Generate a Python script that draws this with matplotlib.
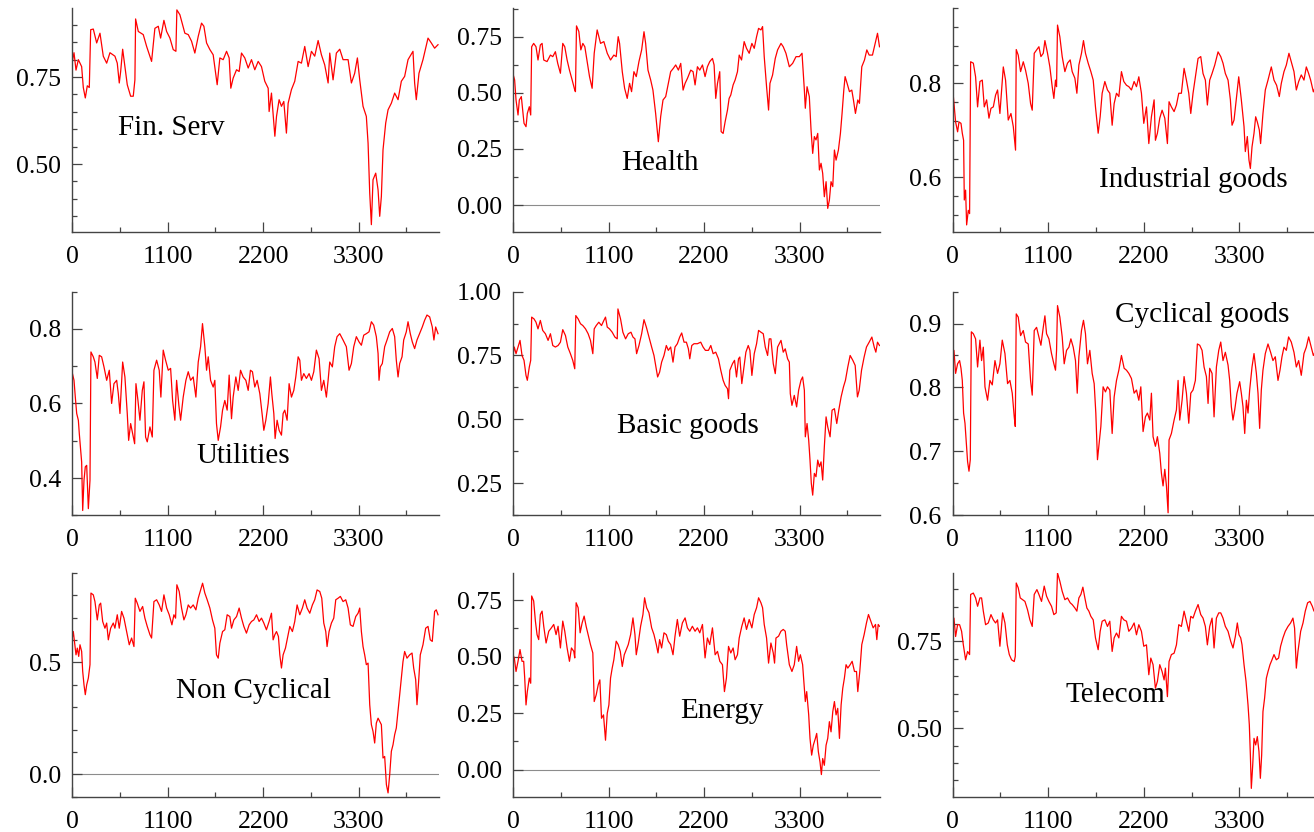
import matplotlib
matplotlib.use("Agg")
import matplotlib.pyplot as plt
from matplotlib.ticker import MultipleLocator, FormatStrFormatter

plt.rcParams['font.family'] = ['Liberation Serif', 'DejaVu Serif']

# (time index, value) pairs
fin_serv = [(0, 0.79), (23, 0.82), (46, 0.77), (73, 0.80), (111, 0.78), (130, 0.72), (153, 0.69), (176, 0.725),
            (199, 0.72), (215, 0.886), (245, 0.888), (284, 0.848), (322, 0.876), (360, 0.81), (399, 0.79),
            (437, 0.82), (494, 0.81), (521, 0.79), (544, 0.733), (560, 0.766), (583, 0.83), (609, 0.78),
            (636, 0.728), (675, 0.695), (705, 0.695), (724, 0.742), (732, 0.917), (763, 0.881), (820, 0.872),
            (859, 0.838), (916, 0.795), (954, 0.89), (993, 0.896), (1020, 0.862), (1058, 0.913), (1089, 0.881),
            (1127, 0.862), (1165, 0.829), (1196, 0.824), (1207, 0.943), (1242, 0.929), (1299, 0.876),
            (1338, 0.872), (1376, 0.853), (1414, 0.819), (1453, 0.867), (1491, 0.905), (1518, 0.896),
            (1549, 0.848), (1587, 0.829), (1625, 0.814), (1671, 0.728), (1702, 0.805), (1740, 0.80),
            (1779, 0.824), (1809, 0.805), (1828, 0.718), (1855, 0.747), (1894, 0.771), (1924, 0.766),
            (1951, 0.819), (1989, 0.805), (2028, 0.776), (2066, 0.80), (2104, 0.771), (2143, 0.795),
            (2181, 0.78), (2219, 0.738), (2258, 0.718), (2269, 0.651), (2296, 0.704), (2335, 0.58),
            (2354, 0.637), (2384, 0.685), (2411, 0.666), (2438, 0.68), (2468, 0.589), (2488, 0.675),
            (2526, 0.714), (2564, 0.738), (2603, 0.795), (2641, 0.79), (2679, 0.838), (2718, 0.78),
            (2756, 0.824), (2794, 0.81), (2833, 0.855), (2871, 0.814), (2909, 0.785), (2948, 0.733),
            (2967, 0.819), (3005, 0.742), (3043, 0.819), (3082, 0.83), (3120, 0.80), (3178, 0.80),
            (3216, 0.733), (3254, 0.761), (3285, 0.805), (3312, 0.742), (3350, 0.666), (3388, 0.637),
            (3408, 0.56), (3427, 0.417), (3446, 0.326), (3465, 0.455), (3496, 0.474), (3523, 0.426),
            (3542, 0.35), (3561, 0.407), (3580, 0.541), (3611, 0.618), (3638, 0.656), (3676, 0.675),
            (3714, 0.704), (3753, 0.685), (3791, 0.738), (3829, 0.752), (3868, 0.80), (3925, 0.824),
            (3944, 0.733), (3963, 0.685), (3994, 0.761), (4040, 0.80), (4098, 0.862), (4136, 0.848),
            (4174, 0.833), (4213, 0.843)]

health = [(0, 0.584), (19, 0.557), (35, 0.468), (58, 0.401), (73, 0.468), (96, 0.483), (112, 0.423), (127, 0.364),
          (150, 0.349), (165, 0.408), (188, 0.438), (204, 0.401), (215, 0.705), (238, 0.72), (265, 0.705),
          (288, 0.646), (315, 0.713), (335, 0.72), (354, 0.646), (392, 0.639), (431, 0.668), (458, 0.661),
          (488, 0.683), (515, 0.631), (546, 0.587), (573, 0.72), (596, 0.705), (623, 0.646), (650, 0.601),
          (681, 0.557), (711, 0.512), (719, 0.505), (731, 0.798), (758, 0.773), (781, 0.691), (804, 0.72),
          (827, 0.705), (854, 0.639), (881, 0.572), (911, 0.52), (935, 0.676), (969, 0.78), (1008, 0.72),
          (1046, 0.728), (1085, 0.676), (1123, 0.646), (1161, 0.668), (1188, 0.661), (1211, 0.75),
          (1227, 0.72), (1258, 0.594), (1285, 0.52), (1315, 0.475), (1342, 0.542), (1365, 0.505),
          (1392, 0.594), (1419, 0.572), (1450, 0.639), (1481, 0.691), (1508, 0.772), (1527, 0.72),
          (1554, 0.601), (1585, 0.557), (1611, 0.512), (1642, 0.408), (1673, 0.282), (1700, 0.394),
          (1727, 0.468), (1758, 0.483), (1788, 0.542), (1815, 0.594), (1846, 0.609), (1873, 0.624),
          (1904, 0.601), (1931, 0.631), (1958, 0.512), (1981, 0.542), (2008, 0.564), (2046, 0.601),
          (2073, 0.594), (2096, 0.535), (2123, 0.616), (2150, 0.601), (2181, 0.624), (2211, 0.572),
          (2238, 0.616), (2265, 0.639), (2296, 0.653), (2315, 0.624), (2334, 0.475), (2354, 0.542),
          (2380, 0.594), (2396, 0.327), (2419, 0.319), (2442, 0.371), (2469, 0.423), (2488, 0.475),
          (2507, 0.49), (2534, 0.535), (2557, 0.557), (2584, 0.594), (2604, 0.668), (2631, 0.646),
          (2661, 0.728), (2688, 0.698), (2719, 0.676), (2750, 0.72), (2777, 0.698), (2804, 0.75),
          (2827, 0.787), (2854, 0.78), (2873, 0.795), (2892, 0.661), (2919, 0.527), (2942, 0.423),
          (2958, 0.542), (2988, 0.579), (3019, 0.653), (3046, 0.691), (3085, 0.72), (3111, 0.705),
          (3142, 0.676), (3181, 0.616), (3219, 0.631), (3258, 0.661), (3296, 0.661), (3327, 0.676),
          (3354, 0.512), (3365, 0.431), (3385, 0.527), (3411, 0.483), (3431, 0.334), (3450, 0.23),
          (3469, 0.305), (3488, 0.29), (3508, 0.319), (3527, 0.156), (3546, 0.186), (3565, 0.141),
          (3584, 0.037), (3604, 0.104), (3623, -0.015), (3642, 0.022), (3661, 0.104), (3681, 0.082),
          (3700, 0.245), (3719, 0.2), (3746, 0.245), (3769, 0.319), (3788, 0.408), (3808, 0.512),
          (3823, 0.572), (3846, 0.542), (3873, 0.505), (3900, 0.512), (3919, 0.468), (3942, 0.408),
          (3969, 0.468), (3988, 0.453), (4015, 0.616), (4046, 0.646), (4073, 0.691), (4100, 0.668),
          (4138, 0.668), (4169, 0.72), (4196, 0.765), (4219, 0.705)]

industrial = [(0, 0.789), (15, 0.757), (34, 0.718), (57, 0.697), (73, 0.718), (96, 0.715), (111, 0.694),
              (126, 0.679), (134, 0.552), (149, 0.573), (161, 0.499), (180, 0.53), (195, 0.523), (207, 0.846),
              (238, 0.843), (264, 0.814), (287, 0.75), (314, 0.804), (341, 0.807), (364, 0.75), (391, 0.765),
              (418, 0.726), (441, 0.747), (468, 0.75), (494, 0.775), (517, 0.786), (544, 0.736), (583, 0.835),
              (609, 0.807), (640, 0.722), (671, 0.736), (698, 0.708), (724, 0.658), (732, 0.872), (755, 0.86),
              (782, 0.825), (813, 0.846), (839, 0.828), (870, 0.80), (897, 0.757), (916, 0.743), (939, 0.864),
              (966, 0.871), (993, 0.878), (1016, 0.857), (1043, 0.864), (1062, 0.891), (1092, 0.864),
              (1119, 0.835), (1146, 0.793), (1165, 0.768), (1184, 0.807), (1196, 0.793), (1207, 0.924),
              (1234, 0.899), (1261, 0.857), (1292, 0.825), (1322, 0.843), (1353, 0.85), (1376, 0.825),
              (1407, 0.811), (1430, 0.779), (1453, 0.839), (1483, 0.864), (1506, 0.891), (1529, 0.864),
              (1560, 0.843), (1591, 0.825), (1618, 0.807), (1644, 0.75), (1675, 0.694), (1698, 0.729),
              (1721, 0.779), (1752, 0.804), (1782, 0.786), (1809, 0.779), (1836, 0.711), (1859, 0.757),
              (1886, 0.779), (1913, 0.772), (1943, 0.825), (1970, 0.804), (2001, 0.796), (2028, 0.793),
              (2058, 0.786), (2089, 0.804), (2116, 0.793), (2143, 0.814), (2173, 0.779), (2200, 0.715),
              (2231, 0.75), (2258, 0.672), (2288, 0.729), (2319, 0.765), (2334, 0.679), (2357, 0.694),
              (2384, 0.726), (2411, 0.743), (2442, 0.726), (2472, 0.672), (2491, 0.761), (2518, 0.75),
              (2549, 0.74), (2576, 0.754), (2603, 0.779), (2633, 0.779), (2664, 0.832), (2691, 0.807),
              (2718, 0.779), (2741, 0.736), (2767, 0.779), (2794, 0.814), (2825, 0.853), (2856, 0.857),
              (2882, 0.821), (2909, 0.807), (2932, 0.754), (2959, 0.807), (2986, 0.821), (3017, 0.839),
              (3055, 0.867), (3086, 0.857), (3112, 0.843), (3139, 0.821), (3170, 0.807), (3197, 0.765),
              (3216, 0.711), (3239, 0.722), (3266, 0.768), (3293, 0.814), (3323, 0.765), (3354, 0.708),
              (3369, 0.655), (3392, 0.687), (3411, 0.637), (3427, 0.619), (3446, 0.665), (3469, 0.694),
              (3488, 0.729), (3507, 0.718), (3530, 0.701), (3545, 0.672), (3572, 0.736), (3599, 0.786),
              (3630, 0.807), (3668, 0.835), (3699, 0.807), (3729, 0.796), (3760, 0.772), (3783, 0.80),
              (3814, 0.825), (3841, 0.839), (3871, 0.864), (3898, 0.846), (3929, 0.825), (3956, 0.786),
              (3983, 0.804), (4013, 0.818), (4044, 0.807), (4071, 0.835), (4098, 0.821), (4121, 0.807),
              (4152, 0.782), (4190, 0.80), (4220, 0.79)]

utilities = [(0, 0.685), (23, 0.662), (38, 0.617), (54, 0.573), (73, 0.555), (84, 0.519), (100, 0.474),
             (111, 0.443), (123, 0.313), (138, 0.394), (153, 0.43), (169, 0.434), (188, 0.318), (207, 0.394),
             (218, 0.738), (245, 0.725), (264, 0.711), (291, 0.667), (314, 0.729), (341, 0.725), (368, 0.698),
             (399, 0.662), (429, 0.689), (456, 0.60), (483, 0.653), (514, 0.662), (533, 0.626), (552, 0.573),
             (583, 0.711), (609, 0.671), (636, 0.573), (652, 0.501), (675, 0.546), (698, 0.519), (721, 0.492),
             (736, 0.653), (759, 0.608), (782, 0.555), (809, 0.635), (828, 0.658), (847, 0.51), (866, 0.497),
             (897, 0.537), (924, 0.51), (943, 0.689), (974, 0.716), (1004, 0.689), (1023, 0.617), (1050, 0.743),
             (1077, 0.716), (1108, 0.689), (1135, 0.694), (1158, 0.608), (1184, 0.555), (1204, 0.662),
             (1230, 0.595), (1250, 0.555), (1280, 0.617), (1311, 0.662), (1338, 0.685), (1365, 0.662),
             (1395, 0.671), (1426, 0.617), (1453, 0.711), (1480, 0.752), (1502, 0.814), (1529, 0.752),
             (1549, 0.689), (1568, 0.725), (1595, 0.662), (1625, 0.644), (1644, 0.662), (1663, 0.546),
             (1683, 0.501), (1710, 0.537), (1733, 0.582), (1759, 0.608), (1786, 0.582), (1809, 0.676),
             (1836, 0.559), (1855, 0.617), (1886, 0.671), (1913, 0.635), (1940, 0.689), (1970, 0.671),
             (2001, 0.662), (2028, 0.635), (2054, 0.689), (2077, 0.685), (2104, 0.644), (2131, 0.662),
             (2162, 0.626), (2192, 0.564), (2208, 0.528), (2231, 0.555), (2258, 0.60), (2284, 0.671),
             (2300, 0.626), (2323, 0.573), (2338, 0.506), (2361, 0.555), (2384, 0.528), (2411, 0.515),
             (2430, 0.573), (2449, 0.582), (2476, 0.555), (2499, 0.653), (2526, 0.617), (2553, 0.635),
             (2576, 0.671), (2603, 0.725), (2622, 0.716), (2641, 0.662), (2668, 0.68), (2698, 0.667),
             (2729, 0.68), (2756, 0.662), (2783, 0.685), (2813, 0.743), (2844, 0.72), (2871, 0.635),
             (2898, 0.662), (2928, 0.617), (2948, 0.662), (2967, 0.711), (2997, 0.698), (3024, 0.752),
             (3051, 0.779), (3082, 0.787), (3120, 0.77), (3158, 0.752), (3189, 0.689), (3216, 0.707),
             (3243, 0.752), (3273, 0.779), (3304, 0.765), (3331, 0.756), (3358, 0.783), (3388, 0.787),
             (3419, 0.792), (3446, 0.819), (3473, 0.81), (3503, 0.779), (3523, 0.734), (3534, 0.662),
             (3549, 0.698), (3572, 0.707), (3599, 0.752), (3626, 0.77), (3657, 0.792), (3687, 0.801),
             (3714, 0.779), (3733, 0.716), (3753, 0.671), (3772, 0.707), (3799, 0.725), (3818, 0.77),
             (3848, 0.792), (3868, 0.819), (3894, 0.787), (3917, 0.765), (3944, 0.747), (3971, 0.77),
             (4001, 0.787), (4032, 0.805), (4059, 0.823), (4086, 0.837), (4117, 0.832), (4147, 0.805),
             (4166, 0.77), (4186, 0.805), (4213, 0.787)]

basic_goods = [(0, 0.75), (15, 0.783), (35, 0.757), (58, 0.783), (81, 0.809), (104, 0.75), (127, 0.731),
               (150, 0.672), (165, 0.653), (188, 0.705), (204, 0.731), (215, 0.90), (242, 0.893), (265, 0.88),
               (288, 0.854), (315, 0.887), (342, 0.848), (373, 0.835), (404, 0.809), (431, 0.835), (458, 0.789),
               (488, 0.783), (519, 0.789), (546, 0.802), (573, 0.851), (604, 0.828), (631, 0.783), (661, 0.757),
               (688, 0.731), (711, 0.698), (723, 0.906), (750, 0.893), (777, 0.874), (804, 0.867), (835, 0.854),
               (865, 0.835), (892, 0.809), (919, 0.757), (935, 0.854), (958, 0.867), (988, 0.88), (1019, 0.867),
               (1046, 0.887), (1065, 0.90), (1085, 0.861), (1111, 0.854), (1142, 0.841), (1173, 0.822),
               (1200, 0.815), (1208, 0.932), (1238, 0.893), (1265, 0.841), (1296, 0.815), (1327, 0.835),
               (1358, 0.841), (1381, 0.822), (1404, 0.815), (1423, 0.757), (1450, 0.789), (1481, 0.835),
               (1508, 0.89), (1535, 0.861), (1565, 0.822), (1596, 0.783), (1623, 0.75), (1642, 0.711),
               (1665, 0.666), (1688, 0.685), (1711, 0.724), (1738, 0.75), (1765, 0.789), (1788, 0.77),
               (1815, 0.783), (1842, 0.724), (1865, 0.783), (1892, 0.796), (1919, 0.822), (1942, 0.838),
               (1969, 0.802), (1996, 0.802), (2019, 0.776), (2035, 0.737), (2058, 0.789), (2084, 0.796),
               (2123, 0.796), (2161, 0.802), (2188, 0.783), (2215, 0.77), (2250, 0.77), (2277, 0.789),
               (2304, 0.757), (2334, 0.763), (2365, 0.737), (2392, 0.692), (2419, 0.653), (2442, 0.633),
               (2469, 0.62), (2481, 0.581), (2496, 0.692), (2527, 0.718), (2550, 0.731), (2573, 0.666),
               (2596, 0.737), (2611, 0.744), (2634, 0.64), (2661, 0.711), (2681, 0.763), (2708, 0.789),
               (2727, 0.77), (2750, 0.672), (2777, 0.757), (2804, 0.796), (2827, 0.848), (2854, 0.841),
               (2881, 0.835), (2904, 0.783), (2931, 0.75), (2950, 0.815), (2969, 0.815), (2996, 0.718),
               (3019, 0.679), (3046, 0.783), (3085, 0.809), (3111, 0.763), (3134, 0.776), (3161, 0.737),
               (3181, 0.724), (3192, 0.601), (3211, 0.555), (3238, 0.594), (3265, 0.549), (3288, 0.614),
               (3315, 0.653), (3334, 0.666), (3354, 0.614), (3365, 0.432), (3385, 0.484), (3404, 0.419),
               (3419, 0.341), (3434, 0.25), (3450, 0.204), (3469, 0.289), (3488, 0.276), (3508, 0.341),
               (3527, 0.315), (3546, 0.334), (3565, 0.263), (3584, 0.393), (3604, 0.51), (3623, 0.471),
               (3650, 0.432), (3673, 0.536), (3700, 0.542), (3727, 0.484), (3750, 0.536), (3777, 0.588),
               (3804, 0.627), (3827, 0.653), (3854, 0.705), (3881, 0.75), (3912, 0.731), (3939, 0.711),
               (3965, 0.588), (3985, 0.614), (4012, 0.692), (4042, 0.744), (4069, 0.783), (4100, 0.802),
               (4131, 0.822), (4158, 0.783), (4177, 0.763), (4196, 0.802), (4219, 0.789)]

cyclical = [(0, 0.842), (15, 0.858), (34, 0.822), (57, 0.837), (80, 0.842), (96, 0.83), (111, 0.811), (126, 0.76),
            (142, 0.744), (157, 0.713), (172, 0.684), (188, 0.669), (203, 0.687), (215, 0.887), (238, 0.884),
            (264, 0.876), (287, 0.832), (314, 0.874), (333, 0.842), (353, 0.863), (372, 0.801), (402, 0.78),
            (429, 0.811), (456, 0.804), (487, 0.842), (517, 0.822), (544, 0.837), (571, 0.874), (602, 0.853),
            (632, 0.806), (659, 0.811), (686, 0.791), (709, 0.754), (721, 0.739), (732, 0.915), (755, 0.91),
            (782, 0.881), (813, 0.889), (839, 0.871), (870, 0.868), (897, 0.811), (916, 0.788), (939, 0.889),
            (966, 0.894), (993, 0.879), (1016, 0.866), (1043, 0.894), (1062, 0.912), (1081, 0.884),
            (1108, 0.876), (1138, 0.853), (1165, 0.837), (1184, 0.827), (1196, 0.858), (1207, 0.928),
            (1234, 0.91), (1261, 0.879), (1284, 0.837), (1311, 0.858), (1338, 0.863), (1361, 0.876),
            (1388, 0.863), (1414, 0.842), (1434, 0.791), (1453, 0.848), (1483, 0.889), (1506, 0.905),
            (1529, 0.884), (1552, 0.837), (1579, 0.858), (1606, 0.822), (1629, 0.806), (1648, 0.76),
            (1667, 0.687), (1683, 0.708), (1706, 0.739), (1732, 0.801), (1759, 0.793), (1782, 0.801),
            (1809, 0.796), (1836, 0.728), (1859, 0.785), (1886, 0.811), (1913, 0.827), (1943, 0.85),
            (1974, 0.83), (2001, 0.827), (2028, 0.822), (2058, 0.814), (2089, 0.791), (2116, 0.796),
            (2143, 0.78), (2166, 0.801), (2192, 0.731), (2219, 0.754), (2242, 0.76), (2269, 0.749),
            (2288, 0.791), (2307, 0.723), (2334, 0.708), (2357, 0.723), (2384, 0.697), (2403, 0.666),
            (2422, 0.646), (2442, 0.672), (2461, 0.646), (2480, 0.604), (2491, 0.718), (2518, 0.728),
            (2549, 0.749), (2576, 0.765), (2595, 0.811), (2614, 0.749), (2641, 0.78), (2664, 0.817),
            (2691, 0.791), (2718, 0.744), (2741, 0.791), (2767, 0.796), (2794, 0.811), (2817, 0.868),
            (2844, 0.866), (2871, 0.858), (2894, 0.832), (2921, 0.817), (2940, 0.775), (2959, 0.83),
            (2986, 0.822), (3009, 0.754), (3036, 0.832), (3063, 0.858), (3086, 0.871), (3112, 0.842),
            (3139, 0.855), (3170, 0.835), (3189, 0.811), (3208, 0.77), (3227, 0.749), (3247, 0.765),
            (3273, 0.791), (3304, 0.809), (3323, 0.791), (3342, 0.77), (3362, 0.728), (3381, 0.78),
            (3400, 0.76), (3419, 0.796), (3446, 0.832), (3469, 0.853), (3496, 0.822), (3515, 0.791),
            (3534, 0.736), (3553, 0.796), (3572, 0.827), (3599, 0.853), (3630, 0.868), (3660, 0.855),
            (3687, 0.842), (3714, 0.848), (3745, 0.811), (3768, 0.827), (3791, 0.848), (3814, 0.863),
            (3841, 0.858), (3867, 0.879), (3898, 0.871), (3929, 0.855), (3956, 0.832), (3983, 0.842),
            (4013, 0.819), (4044, 0.853), (4071, 0.863), (4098, 0.879), (4128, 0.863), (4152, 0.85),
            (4190, 0.86), (4220, 0.855)]

non_cyclical = [(0, 0.601), (15, 0.638), (31, 0.586), (46, 0.534), (61, 0.564), (77, 0.527), (92, 0.579),
                (111, 0.549), (123, 0.46), (138, 0.40), (153, 0.356), (169, 0.40), (188, 0.43), (207, 0.49),
                (218, 0.81), (245, 0.802), (264, 0.772), (291, 0.69), (314, 0.757), (330, 0.765), (353, 0.683),
                (379, 0.653), (399, 0.676), (418, 0.601), (445, 0.653), (475, 0.676), (494, 0.653), (521, 0.713),
                (544, 0.653), (571, 0.728), (598, 0.698), (629, 0.638), (659, 0.579), (686, 0.609), (713, 0.571),
                (728, 0.787), (751, 0.765), (782, 0.728), (813, 0.75), (839, 0.698), (866, 0.661), (897, 0.624),
                (916, 0.609), (943, 0.772), (974, 0.78), (1004, 0.757), (1031, 0.728), (1058, 0.802),
                (1089, 0.743), (1119, 0.713), (1150, 0.668), (1173, 0.713), (1192, 0.698), (1207, 0.847),
                (1234, 0.817), (1261, 0.743), (1288, 0.69), (1311, 0.713), (1338, 0.757), (1365, 0.743),
                (1395, 0.757), (1426, 0.735), (1453, 0.787), (1480, 0.824), (1503, 0.854), (1529, 0.81),
                (1556, 0.78), (1587, 0.743), (1617, 0.69), (1644, 0.653), (1663, 0.534), (1683, 0.519),
                (1702, 0.586), (1733, 0.638), (1759, 0.646), (1786, 0.713), (1817, 0.705), (1836, 0.653),
                (1863, 0.69), (1894, 0.705), (1924, 0.743), (1951, 0.698), (1978, 0.661), (2008, 0.631),
                (2039, 0.668), (2066, 0.683), (2093, 0.69), (2124, 0.713), (2154, 0.683), (2181, 0.698),
                (2208, 0.676), (2238, 0.646), (2269, 0.683), (2296, 0.72), (2315, 0.601), (2335, 0.624),
                (2354, 0.638), (2376, 0.616), (2392, 0.534), (2411, 0.475), (2430, 0.534), (2457, 0.564),
                (2484, 0.616), (2507, 0.661), (2537, 0.638), (2564, 0.683), (2591, 0.757), (2622, 0.713),
                (2652, 0.743), (2679, 0.78), (2706, 0.743), (2737, 0.72), (2767, 0.757), (2794, 0.78),
                (2821, 0.824), (2852, 0.817), (2875, 0.787), (2898, 0.676), (2921, 0.638), (2936, 0.571),
                (2959, 0.638), (2986, 0.676), (3013, 0.698), (3036, 0.78), (3063, 0.787), (3089, 0.795),
                (3120, 0.772), (3151, 0.78), (3178, 0.743), (3204, 0.668), (3235, 0.661), (3266, 0.705),
                (3293, 0.72), (3312, 0.743), (3331, 0.638), (3350, 0.571), (3369, 0.534), (3388, 0.49),
                (3408, 0.497), (3427, 0.311), (3446, 0.222), (3465, 0.192), (3484, 0.14), (3503, 0.229),
                (3523, 0.251), (3542, 0.237), (3561, 0.222), (3580, 0.073), (3599, 0.08), (3619, -0.046),
                (3638, -0.083), (3657, -0.001), (3676, 0.103), (3695, 0.132), (3714, 0.177), (3733, 0.207),
                (3753, 0.281), (3772, 0.356), (3791, 0.43), (3810, 0.504), (3829, 0.549), (3856, 0.519),
                (3887, 0.534), (3914, 0.542), (3933, 0.475), (3956, 0.423), (3971, 0.311), (3990, 0.415),
                (4009, 0.534), (4040, 0.579), (4071, 0.653), (4098, 0.661), (4124, 0.601), (4147, 0.594),
                (4174, 0.728), (4193, 0.735), (4213, 0.713)]

energy = [(0, 0.508), (15, 0.494), (35, 0.434), (58, 0.479), (81, 0.531), (104, 0.479), (123, 0.479), (135, 0.405),
          (150, 0.286), (165, 0.345), (188, 0.405), (204, 0.382), (215, 0.768), (238, 0.746), (258, 0.657),
          (277, 0.597), (296, 0.575), (315, 0.686), (335, 0.701), (354, 0.634), (381, 0.56), (412, 0.612),
          (442, 0.627), (469, 0.642), (496, 0.597), (519, 0.634), (546, 0.538), (573, 0.657), (596, 0.612),
          (623, 0.538), (650, 0.479), (673, 0.538), (700, 0.523), (711, 0.494), (727, 0.738), (750, 0.716),
          (773, 0.605), (796, 0.649), (819, 0.679), (842, 0.634), (865, 0.597), (892, 0.553), (919, 0.516),
          (935, 0.301), (958, 0.331), (981, 0.375), (1000, 0.397), (1019, 0.227), (1042, 0.242), (1065, 0.13),
          (1085, 0.249), (1104, 0.286), (1123, 0.405), (1142, 0.449), (1161, 0.486), (1188, 0.568),
          (1211, 0.553), (1235, 0.523), (1258, 0.456), (1281, 0.508), (1304, 0.531), (1327, 0.553),
          (1354, 0.597), (1381, 0.671), (1404, 0.597), (1419, 0.508), (1442, 0.56), (1469, 0.634),
          (1496, 0.686), (1515, 0.76), (1538, 0.716), (1565, 0.694), (1596, 0.627), (1623, 0.597),
          (1650, 0.553), (1669, 0.516), (1688, 0.575), (1711, 0.538), (1738, 0.605), (1765, 0.597),
          (1788, 0.568), (1815, 0.553), (1842, 0.508), (1865, 0.59), (1892, 0.664), (1919, 0.59),
          (1950, 0.649), (1981, 0.671), (2008, 0.627), (2035, 0.612), (2065, 0.634), (2096, 0.612),
          (2123, 0.627), (2150, 0.605), (2181, 0.642), (2211, 0.494), (2238, 0.582), (2265, 0.553),
          (2296, 0.627), (2327, 0.508), (2354, 0.523), (2381, 0.479), (2411, 0.464), (2434, 0.345),
          (2457, 0.405), (2481, 0.545), (2507, 0.516), (2534, 0.538), (2557, 0.486), (2584, 0.508),
          (2604, 0.582), (2634, 0.634), (2661, 0.671), (2688, 0.62), (2719, 0.664), (2750, 0.627),
          (2777, 0.686), (2804, 0.716), (2827, 0.76), (2854, 0.738), (2873, 0.716), (2892, 0.642),
          (2919, 0.582), (2942, 0.471), (2969, 0.56), (2996, 0.516), (3011, 0.471), (3027, 0.582),
          (3057, 0.59), (3084, 0.612), (3111, 0.62), (3134, 0.612), (3150, 0.553), (3181, 0.464),
          (3211, 0.434), (3238, 0.464), (3265, 0.545), (3288, 0.479), (3308, 0.508), (3334, 0.464),
          (3354, 0.36), (3365, 0.301), (3381, 0.345), (3404, 0.242), (3419, 0.138), (3438, 0.064),
          (3457, 0.108), (3481, 0.138), (3496, 0.16), (3515, 0.079), (3534, 0.034), (3550, -0.022),
          (3565, 0.049), (3584, 0.019), (3604, 0.108), (3623, 0.138), (3642, 0.212), (3661, 0.167),
          (3681, 0.256), (3700, 0.301), (3719, 0.242), (3738, 0.271), (3758, 0.138), (3777, 0.286),
          (3796, 0.36), (3815, 0.405), (3834, 0.464), (3854, 0.449), (3881, 0.464), (3904, 0.479),
          (3931, 0.434), (3954, 0.434), (3969, 0.345), (3992, 0.434), (4015, 0.553), (4042, 0.597),
          (4069, 0.649), (4092, 0.686), (4119, 0.657), (4146, 0.627), (4173, 0.642), (4188, 0.575),
          (4204, 0.642), (4219, 0.634)]

telecom = [(0, 0.788), (15, 0.817), (34, 0.764), (57, 0.798), (80, 0.798), (103, 0.779), (123, 0.74), (149, 0.697),
           (172, 0.721), (195, 0.712), (207, 0.885), (238, 0.889), (264, 0.875), (287, 0.851), (314, 0.875),
           (333, 0.875), (353, 0.837), (379, 0.798), (410, 0.803), (441, 0.827), (468, 0.812), (494, 0.803),
           (517, 0.812), (544, 0.736), (575, 0.832), (602, 0.803), (629, 0.74), (652, 0.712), (678, 0.697),
           (709, 0.692), (721, 0.707), (732, 0.918), (755, 0.904), (778, 0.875), (805, 0.87), (832, 0.865),
           (862, 0.841), (889, 0.812), (916, 0.793), (939, 0.885), (970, 0.899), (993, 0.885), (1023, 0.865),
           (1054, 0.909), (1081, 0.88), (1108, 0.865), (1138, 0.851), (1165, 0.827), (1192, 0.832),
           (1207, 0.947), (1234, 0.923), (1261, 0.894), (1292, 0.87), (1322, 0.875), (1353, 0.861),
           (1376, 0.856), (1407, 0.846), (1430, 0.837), (1453, 0.875), (1476, 0.885), (1499, 0.906),
           (1522, 0.875), (1545, 0.846), (1568, 0.837), (1591, 0.822), (1618, 0.812), (1644, 0.76),
           (1675, 0.726), (1698, 0.779), (1721, 0.808), (1752, 0.812), (1782, 0.793), (1809, 0.808),
           (1836, 0.721), (1859, 0.76), (1886, 0.774), (1913, 0.76), (1943, 0.822), (1970, 0.812),
           (2001, 0.808), (2028, 0.779), (2058, 0.788), (2089, 0.803), (2116, 0.769), (2143, 0.798),
           (2173, 0.779), (2200, 0.736), (2231, 0.74), (2258, 0.654), (2281, 0.702), (2307, 0.683),
           (2334, 0.615), (2357, 0.635), (2384, 0.683), (2411, 0.663), (2434, 0.639), (2449, 0.673),
           (2472, 0.591), (2491, 0.692), (2518, 0.712), (2549, 0.716), (2576, 0.74), (2603, 0.798),
           (2633, 0.793), (2664, 0.837), (2691, 0.808), (2718, 0.779), (2741, 0.822), (2767, 0.817),
           (2794, 0.837), (2825, 0.856), (2856, 0.827), (2882, 0.817), (2909, 0.793), (2932, 0.74),
           (2959, 0.793), (2986, 0.817), (3009, 0.731), (3036, 0.817), (3063, 0.832), (3086, 0.832),
           (3112, 0.817), (3139, 0.793), (3170, 0.779), (3201, 0.75), (3227, 0.731), (3254, 0.764),
           (3277, 0.803), (3296, 0.769), (3316, 0.76), (3331, 0.74), (3354, 0.683), (3377, 0.635),
           (3400, 0.567), (3415, 0.51), (3427, 0.423), (3438, 0.327), (3454, 0.394), (3469, 0.471),
           (3488, 0.452), (3507, 0.476), (3526, 0.433), (3542, 0.356), (3557, 0.423), (3572, 0.548),
           (3591, 0.587), (3611, 0.644), (3630, 0.663), (3653, 0.683), (3676, 0.697), (3699, 0.712),
           (3726, 0.697), (3752, 0.702), (3775, 0.736), (3802, 0.76), (3829, 0.779), (3860, 0.793),
           (3890, 0.803), (3917, 0.817), (3936, 0.788), (3956, 0.673), (3975, 0.721), (4006, 0.779),
           (4033, 0.803), (4059, 0.837), (4086, 0.861), (4113, 0.865), (4140, 0.851), (4159, 0.837),
           (4190, 0.85), (4220, 0.845)]

names = ["Fin. Serv", "Health", "Industrial goods", "Utilities", "Basic goods", "Cyclical goods",
         "Non Cyclical", "Energy", "Telecom"]
series = [fin_serv, health, industrial, utilities, basic_goods, cyclical, non_cyclical, energy, telecom]
ylims = [(0.305, 0.948), (-0.12, 0.877), (0.484, 0.96), (0.3, 0.9), (0.125, 1.0), (0.6, 0.95),
         (-0.1, 0.9), (-0.12, 0.87), (0.303, 0.947)]
major_steps = [0.25, 0.25, 0.2, 0.2, 0.25, 0.1, 0.5, 0.25, 0.25]
minor_steps = [0.05, 0.125, 0.04, 0.1, 0.125, 0.05, 0.1, 0.125, 0.05]
fmts = ['%.2f', '%.2f', '%.1f', '%.1f', '%.2f', '%.1f', '%.1f', '%.2f', '%.2f']
label_pos = [(0.125, 0.434), (0.294, 0.277), (0.398, 0.2025), (0.34, 0.2345), (0.283, 0.368),
             (0.442, 0.863), (0.2825, 0.44), (0.456, 0.351), (0.307, 0.425)]
zero_line = [False, True, False, False, False, False, True, True, False]

fig = plt.figure(figsize=(13.14, 8.32), dpi=100)
lefts = [0.0548, 0.3904, 0.7250]
bottoms = [0.7212, 0.3806, 0.0424]
w, h = 0.2790, 0.2690

for i in range(9):
    r, c = divmod(i, 3)
    ax = fig.add_axes([lefts[c], bottoms[r], w, h])
    t, v = zip(*series[i])
    if zero_line[i]:
        ax.axhline(0, color='#8c8c8c', lw=0.8, zorder=1)
    ax.plot(t, v, color='red', lw=0.9, zorder=2)
    ax.set_xlim(0, 4220)
    ax.set_ylim(*ylims[i])
    ax.xaxis.set_major_locator(MultipleLocator(1100))
    ax.xaxis.set_minor_locator(MultipleLocator(550))
    ax.yaxis.set_major_locator(MultipleLocator(major_steps[i]))
    ax.yaxis.set_minor_locator(MultipleLocator(minor_steps[i]))
    ax.yaxis.set_major_formatter(FormatStrFormatter(fmts[i]))
    for s in ['top', 'right']:
        ax.spines[s].set_visible(False)
    for s in ['left', 'bottom']:
        ax.spines[s].set_color('#444444')
        ax.spines[s].set_linewidth(1.0)
    ax.tick_params(which='major', direction='in', length=7, width=0.9, color='#444444',
                   labelsize=18.5, pad=8)
    ax.tick_params(which='minor', direction='in', length=3.6, width=0.9, color='#444444')
    ax.tick_params(axis='x', which='major', pad=10)
    ax.text(label_pos[i][0], label_pos[i][1], names[i], transform=ax.transAxes,
            fontsize=21, ha='left', va='baseline')

fig.savefig('out.png', dpi=100)
